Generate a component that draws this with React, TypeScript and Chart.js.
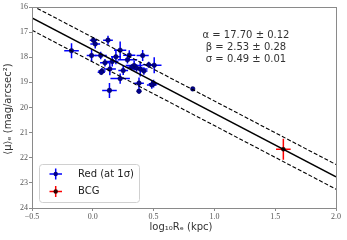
import React, { useEffect, useRef } from "react";
import { Chart, registerables } from "chart.js";
Chart.register(...registerables);

const redX = [-0.175, 0.005, 0.02, 0.125, -0.01, 0.065, 0.225, 0.16, 0.10, 0.19, 0.30, 0.41, 0.285, 0.14, 0.075, 0.07, 0.25, 0.225, 0.34, 0.36, 0.39, 0.46, 0.505, 0.38, 0.38, 0.50, 0.485, 0.137, 0.822, 0.32, 0.42];
const redY = [17.74, 17.32, 17.47, 17.32, 17.93, 17.93, 17.72, 18.17, 18.22, 17.98, 17.92, 17.93, 18.1, 18.47, 18.55, 18.6, 18.53, 18.85, 18.33, 18.43, 18.47, 18.3, 18.32, 19.03, 19.35, 19.05, 19.1, 19.32, 19.26, 18.4, 18.55];
const redXErr = [0.06, 0.03, 0.04, 0.04, 0.04, 0.05, 0.05, 0.05, 0.04, 0.04, 0.05, 0.05, 0.08, 0.05, 0.03, 0.03, 0.04, 0.08, 0.07, 0.05, 0.06, 0.05, 0.06, 0.04, 0.02, 0.04, 0.04, 0.06, 0.01, 0.04, 0.03];
const redYErr = [0.3, 0.12, 0.18, 0.18, 0.25, 0.15, 0.35, 0.2, 0.15, 0.3, 0.2, 0.22, 0.15, 0.25, 0.12, 0.1, 0.18, 0.2, 0.2, 0.15, 0.3, 0.12, 0.32, 0.22, 0.1, 0.15, 0.15, 0.3, 0.03, 0.12, 0.15];

const bcgX = [1.567];
const bcgY = [21.66];
const bcgXErr = [0.06];
const bcgYErr = [0.42];

const fitX = [-0.5, 2.0];
const fitY = [16.435, 22.76];
const fitUpper = [15.945, 22.27];
const fitLower = [16.925, 23.25];

const xTicks = [-0.5, 0, 0.5, 1.0, 1.5, 2.0];
const yTicks = [16, 17, 18, 19, 20, 21, 22, 23, 24];

const fitText = ["α = 17.70 ± 0.12", "β = 2.53 ± 0.28", "σ = 0.49 ± 0.01"];
const legendLabels = ["Red (at 1σ)", "BCG"];
const xTitle = "log₁₀Rₑ (kpc)";
const yTitle = "⟨μ⟩ₑ (mag/arcsec²)";

const SANS = "'DejaVu Sans', sans-serif";
const SERIF = "'Liberation Serif', serif";

const pts = (xs: number[], ys: number[]) => xs.map((x, i) => ({ x, y: ys[i] }));

const errorBarPlugin = {
  id: "errorBars",
  beforeDatasetsDraw(chart: any) {
    const ctx = chart.ctx;
    const xs = chart.scales.x;
    const ys = chart.scales.y;
    const draw = (X: number[], Y: number[], XE: number[], YE: number[], color: string) => {
      ctx.save();
      ctx.strokeStyle = color;
      ctx.lineWidth = 1.5;
      X.forEach((x, i) => {
        const y = Y[i];
        ctx.beginPath();
        ctx.moveTo(xs.getPixelForValue(x - XE[i]), ys.getPixelForValue(y));
        ctx.lineTo(xs.getPixelForValue(x + XE[i]), ys.getPixelForValue(y));
        ctx.moveTo(xs.getPixelForValue(x), ys.getPixelForValue(y - YE[i]));
        ctx.lineTo(xs.getPixelForValue(x), ys.getPixelForValue(y + YE[i]));
        ctx.stroke();
      });
      ctx.restore();
    };
    draw(redX, redY, redXErr, redYErr, "#0000ff");
    draw(bcgX, bcgY, bcgXErr, bcgYErr, "#ff0000");
  },
  afterDraw(chart: any) {
    const ctx = chart.ctx;
    const a = chart.chartArea;
    ctx.save();
    // frame
    ctx.strokeStyle = "#8a8a8a";
    ctx.lineWidth = 1;
    ctx.strokeRect(Math.round(a.left) + 0.5, Math.round(a.top) + 0.5, Math.round(a.right - a.left), Math.round(a.bottom - a.top));

    // fit text
    ctx.fillStyle = "#333";
    ctx.font = `10px ${SANS}`;
    ctx.textAlign = "center";
    ctx.textBaseline = "middle";
    fitText.forEach((t, i) => ctx.fillText(t, 246, 35 + i * 12));

    // legend
    const lx = 39, ly = 164, lw = 100, lh = 38;
    ctx.beginPath();
    (ctx as any).roundRect(lx + 0.5, ly + 0.5, lw, lh, 3);
    ctx.fillStyle = "rgba(255,255,255,0.85)";
    ctx.fill();
    ctx.strokeStyle = "#d0d0d0";
    ctx.stroke();
    const entries = [
      { c: "#0000ff", m: "#00008b", y: 174 },
      { c: "#ff0000", m: "#330000", y: 191.5 },
    ];
    entries.forEach((e, i) => {
      ctx.strokeStyle = e.c;
      ctx.lineWidth = 1.5;
      ctx.beginPath();
      ctx.moveTo(49.5, e.y);
      ctx.lineTo(62, e.y);
      ctx.moveTo(55.7, e.y - 5.5);
      ctx.lineTo(55.7, e.y + 5.5);
      ctx.stroke();
      ctx.fillStyle = e.m;
      ctx.beginPath();
      ctx.arc(55.7, e.y, 2.2, 0, Math.PI * 2);
      ctx.fill();
      ctx.fillStyle = "#222";
      ctx.font = `10px ${SANS}`;
      ctx.textAlign = "left";
      ctx.textBaseline = "middle";
      ctx.fillText(legendLabels[i], 78, e.y);
    });

    // axis titles
    ctx.fillStyle = "#333";
    ctx.font = `10px ${SANS}`;
    ctx.textAlign = "center";
    ctx.textBaseline = "middle";
    ctx.fillText(xTitle, 181, 227);
    ctx.translate(8, 109);
    ctx.rotate(-Math.PI / 2);
    ctx.fillText(yTitle, 0, 0);
    ctx.restore();
  },
};

export default function App() {
  const ref = useRef<HTMLCanvasElement>(null);
  useEffect(() => {
    if (!ref.current) return;
    const chart = new Chart(ref.current, {
      type: "scatter",
      data: {
        datasets: [
          {
            type: "line",
            data: pts(fitX, fitY),
            borderColor: "#000",
            borderWidth: 1.4,
            pointRadius: 0,
            fill: false,
          } as any,
          {
            type: "line",
            data: pts(fitX, fitUpper),
            borderColor: "#000",
            borderWidth: 1.1,
            borderDash: [4, 2],
            pointRadius: 0,
            fill: false,
          } as any,
          {
            type: "line",
            data: pts(fitX, fitLower),
            borderColor: "#000",
            borderWidth: 1.1,
            borderDash: [4, 2],
            pointRadius: 0,
            fill: false,
          } as any,
          {
            data: pts(redX, redY),
            pointRadius: 2.3,
            pointBackgroundColor: "#00008b",
            pointBorderColor: "#000044",
            pointBorderWidth: 0.5,
          },
          {
            data: pts(bcgX, bcgY),
            pointRadius: 2,
            pointBackgroundColor: "#330000",
            pointBorderColor: "#000",
            pointBorderWidth: 0.5,
          },
        ],
      },
      options: {
        animation: false,
        responsive: true,
        maintainAspectRatio: false,
        devicePixelRatio: 1,
        layout: { padding: { left: 0, top: 7, right: 11, bottom: 0 } },
        plugins: { legend: { display: false }, tooltip: { enabled: false } },
        scales: {
          x: {
            type: "linear",
            min: -0.5,
            max: 2.0,
            afterBuildTicks: (s: any) => {
              s.ticks = xTicks.map((v) => ({ value: v }));
            },
            afterFit: (s: any) => {
              s.height = 32;
            },
            ticks: {
              font: { family: SERIF, size: 8 },
              color: "#555",
              padding: 1,
              maxRotation: 0,
              callback: (v: any) => Number(v).toFixed(1).replace("-", "−"),
            },
            grid: { drawOnChartArea: false, drawTicks: true, tickLength: 3, color: "#8a8a8a" },
            border: { color: "#8a8a8a" },
          },
          y: {
            type: "linear",
            reverse: true,
            min: 16,
            max: 24,
            afterBuildTicks: (s: any) => {
              s.ticks = yTicks.map((v) => ({ value: v }));
            },
            afterFit: (s: any) => {
              s.width = 32;
            },
            ticks: {
              font: { family: SERIF, size: 8 },
              color: "#555",
              padding: 1,
              callback: (v: any) => String(v),
            },
            grid: { drawOnChartArea: false, drawTicks: true, tickLength: 3, color: "#8a8a8a" },
            border: { color: "#8a8a8a" },
          },
        },
      },
      plugins: [errorBarPlugin],
    });
    return () => chart.destroy();
  }, []);
  return (
    <div style={{ position: "fixed", left: 0, top: 0, width: 347, height: 240, background: "#fff" }}>
      <canvas ref={ref} />
    </div>
  );
}
